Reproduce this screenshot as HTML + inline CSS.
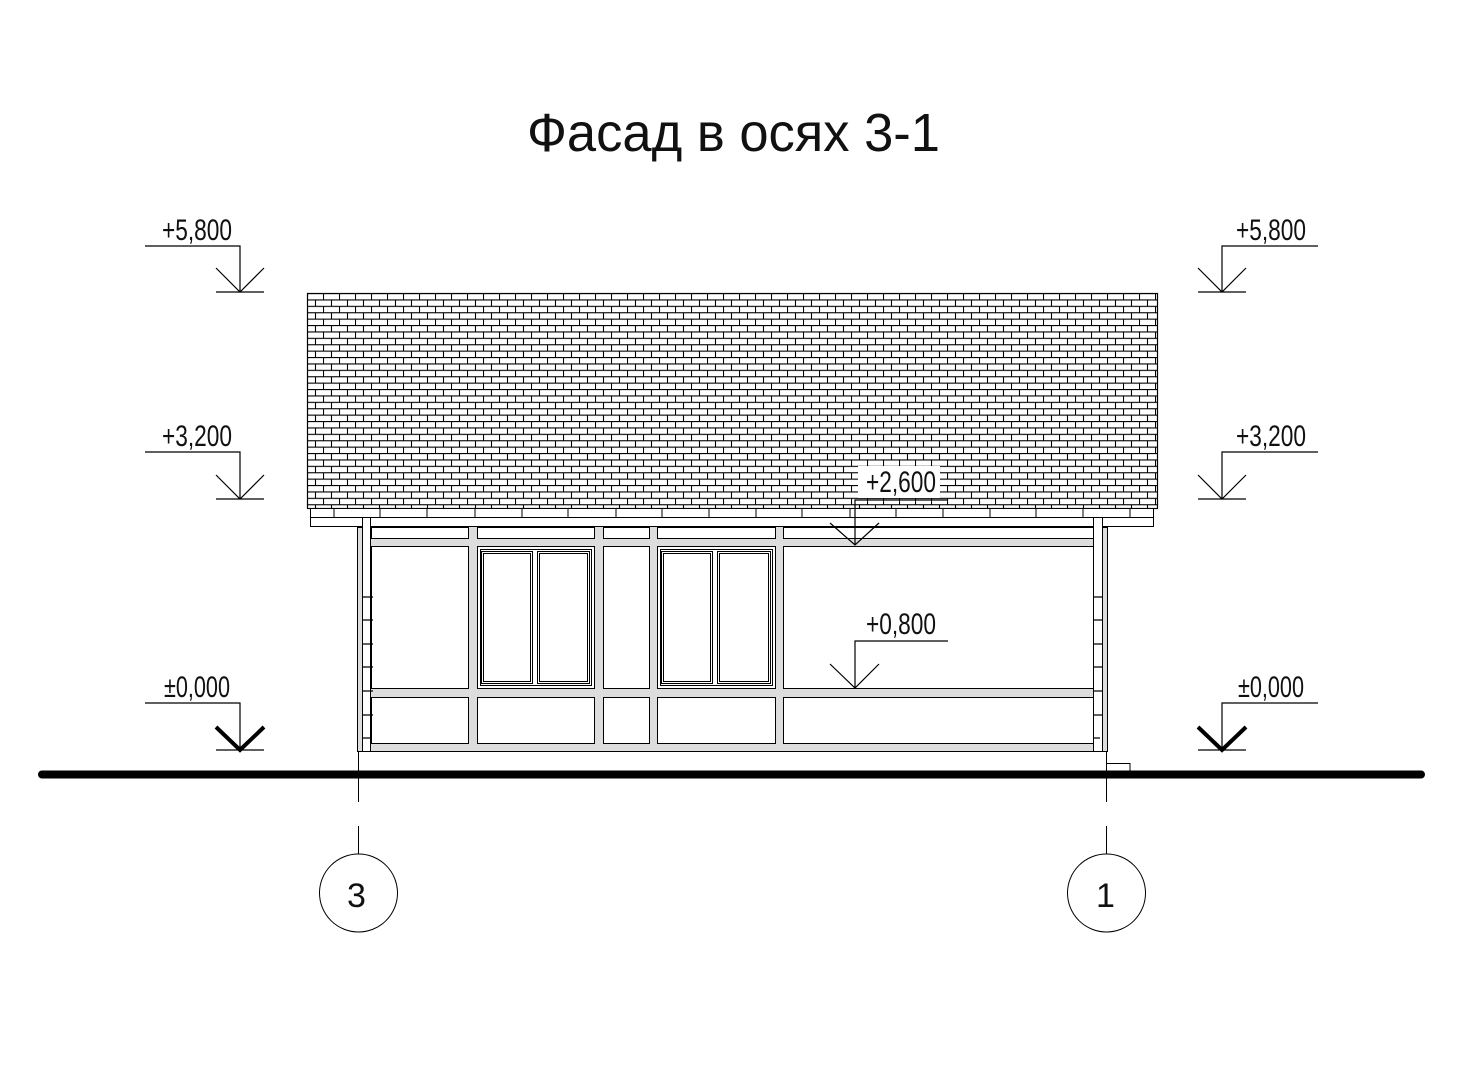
<!DOCTYPE html>
<html><head><meta charset="utf-8"><style>
html,body{margin:0;padding:0;background:#fff;width:1477px;height:1080px;overflow:hidden}
svg{display:block}
text{font-family:"Liberation Sans",sans-serif;fill:#111}
</style></head><body>
<svg width="1477" height="1080" viewBox="0 0 1477 1080" xmlns="http://www.w3.org/2000/svg">
<defs>
<pattern id="brick" x="307" y="293" width="16" height="12.8" patternUnits="userSpaceOnUse">
<rect width="16" height="12.8" fill="#fff"/>
<path d="M0 0.5H16M0 6.9H16M0.5 0V6.4M8.5 6.4V12.8" stroke="#000" stroke-width="1.1" fill="none"/>
</pattern>
</defs>
<text x="527" y="151" font-size="54" textLength="413" lengthAdjust="spacingAndGlyphs">Фасад в осях 3-1</text>

<rect x="307.5" y="293.5" width="850" height="215" fill="url(#brick)" stroke="#000" stroke-width="1.2"/>
<rect x="858" y="466" width="82" height="32" fill="#fff"/>
<rect x="310.5" y="508.5" width="843" height="9" fill="#fff" stroke="#000"/>
<g stroke="#000" stroke-width="1">
<path d="M334 509v8M380 509v8M427 509v8M475 509v8M522 509v8M568 509v8M616 509v8M662 509v8M709 509v8M756 509v8M802 509v8M850 509v8M896 509v8M943 509v8M990 509v8M1036 509v8M1083 509v8M1130 509v8"/>
</g>
<rect x="310.5" y="517.5" width="843" height="9" fill="#fff" stroke="#000"/>

<rect x="357" y="527" width="751" height="225" fill="#ddd"/>
<g fill="#fff" stroke="#000" stroke-width="1">
<rect x="371.5" y="527.5" width="97" height="11"/>
<rect x="477.5" y="527.5" width="117" height="11"/>
<rect x="603.5" y="527.5" width="46" height="11"/>
<rect x="657.5" y="527.5" width="118" height="11"/>
<rect x="783.5" y="527.5" width="310" height="11"/>
<rect x="371.5" y="546.5" width="97" height="142"/>
<rect x="477.5" y="546.5" width="117" height="142"/>
<rect x="603.5" y="546.5" width="46" height="142"/>
<rect x="657.5" y="546.5" width="118" height="142"/>
<rect x="783.5" y="546.5" width="310" height="142"/>
<rect x="371.5" y="697.5" width="97" height="46"/>
<rect x="477.5" y="697.5" width="117" height="46"/>
<rect x="603.5" y="697.5" width="46" height="46"/>
<rect x="657.5" y="697.5" width="118" height="46"/>
<rect x="783.5" y="697.5" width="310" height="46"/>
<rect x="480.5" y="549.5" width="111" height="136"/>
<rect x="481.5" y="551.5" width="51" height="132"/>
<rect x="483.5" y="553.5" width="47" height="128"/>
<rect x="537.5" y="551.5" width="52" height="132"/>
<rect x="539.5" y="553.5" width="48" height="128"/>
<rect x="660.5" y="549.5" width="112" height="136"/>
<rect x="661.5" y="551.5" width="51" height="132"/>
<rect x="663.5" y="553.5" width="47" height="128"/>
<rect x="717.5" y="551.5" width="53" height="132"/>
<rect x="719.5" y="553.5" width="49" height="128"/>
</g>
<line x1="357" y1="751.5" x2="1108" y2="751.5" stroke="#000"/>
<rect x="357.5" y="527.5" width="5" height="224" fill="#ddd" stroke="#000"/>
<rect x="362.5" y="517.5" width="8" height="234" fill="#fff" stroke="#000"/>
<rect x="1102.5" y="527.5" width="5" height="224" fill="#ddd" stroke="#000"/>
<rect x="1093.5" y="517.5" width="9" height="234" fill="#fff" stroke="#000"/>
<g stroke="#000" stroke-width="1.2">
<path d="M363 597h10M363 620h10M363 644h10M363 667h10M363 691h10M363 715h10M363 738h7"/>
<path d="M1093 597h9M1093 620h9M1093 644h9M1093 667h9M1093 691h9M1093 715h9M1093 738h7"/>
</g>
<path d="M1107 763.5h23v8" fill="none" stroke="#000"/>
<line x1="42" y1="774.5" x2="1421" y2="774.5" stroke="#000" stroke-width="8" stroke-linecap="round"/>

<g stroke="#000" stroke-width="1" fill="none">
<path d="M358.5 752V802M358.5 826V854M1106.5 752V802M1106.5 826V854"/>
<circle cx="358.5" cy="893" r="39"/>
<circle cx="1106.5" cy="893" r="39"/>
</g>
<text x="347" y="907" font-size="34">3</text>
<text x="1096" y="907" font-size="34">1</text>

<g stroke="#000" stroke-width="1.2" fill="none">
<path d="M145 246H240V292M216 268L240 292L264 268M216 292H264"/>
<path d="M145 452H240V499M216 475L240 499L264 475M216 499H264"/>
<path d="M145 703H240V750M216 750H264"/>
<path d="M1318 246H1222V292M1198 268L1222 292L1246 268M1198 292H1246"/>
<path d="M1318 452H1222V499M1198 475L1222 499L1246 475M1198 499H1246"/>
<path d="M1318 703H1222V750M1198 750H1246"/>
<path d="M948 500H855V545M830 523L855 545L879 523"/>
<path d="M948 641H855V688M830 664L855 688L879 664"/>
</g>
<g stroke="#000" stroke-width="4" fill="none">
<path d="M216 727L240 750L264 727"/>
<path d="M1198 727L1222 750L1246 727"/>
</g>
<g font-size="30">
<text x="162" y="240" textLength="70" lengthAdjust="spacingAndGlyphs">+5,800</text>
<text x="162" y="446" textLength="70" lengthAdjust="spacingAndGlyphs">+3,200</text>
<text x="164" y="697" textLength="66" lengthAdjust="spacingAndGlyphs">±0,000</text>
<text x="1236" y="240" textLength="70" lengthAdjust="spacingAndGlyphs">+5,800</text>
<text x="1236" y="446" textLength="70" lengthAdjust="spacingAndGlyphs">+3,200</text>
<text x="1238" y="697" textLength="66" lengthAdjust="spacingAndGlyphs">±0,000</text>
<text x="866" y="492" textLength="70" lengthAdjust="spacingAndGlyphs">+2,600</text>
<text x="866" y="634" textLength="70" lengthAdjust="spacingAndGlyphs">+0,800</text>
</g>
</svg>
</body></html>
